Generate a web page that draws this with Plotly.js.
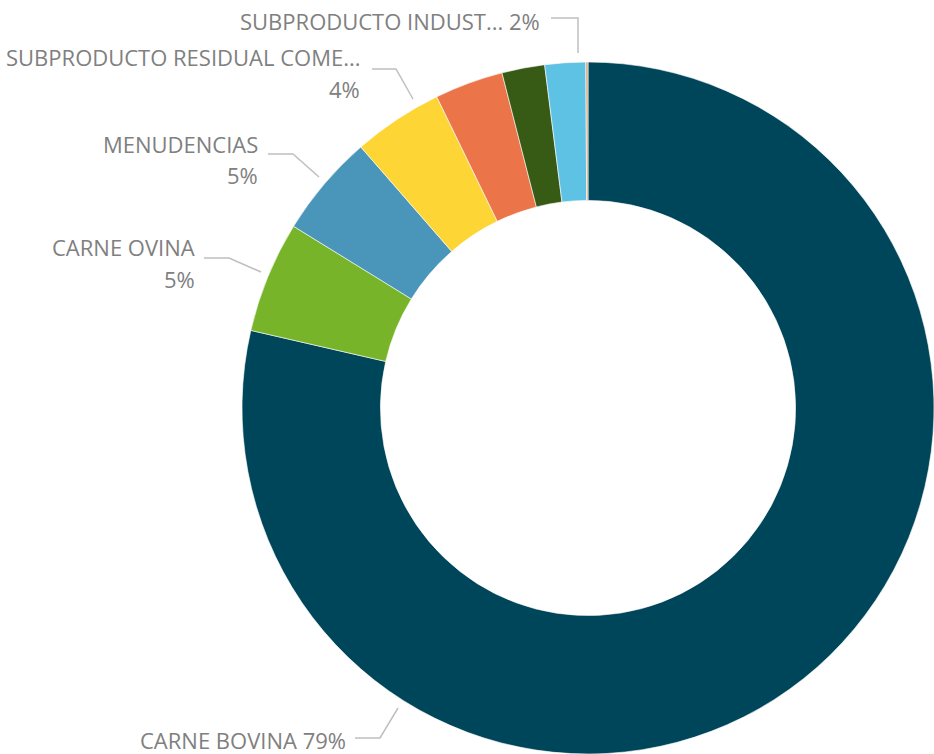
<!DOCTYPE html>
<html>
<head>
<meta charset="utf-8">
<script src="https://cdn.plot.ly/plotly-3.0.1.min.js"></script>
<style>
html,body{margin:0;padding:0;background:#fff;}
#chart{width:934px;height:754px;}
</style>
</head>
<body>
<div id="chart"></div>
<script>
// ---- data ----
var categories = [
  "CARNE BOVINA",
  "CARNE OVINA",
  "MENUDENCIAS",
  "SUBPRODUCTO RESIDUAL COMESTIBLE",
  "CARNE PORCINA",
  "CARNE AVIAR",
  "SUBPRODUCTO INDUSTRIAL",
  "OTROS"
];
var values = [78.6, 5.2, 4.8, 4.2, 3.2, 2.0, 1.9, 0.1];
var shortLabels = [
  "CARNE BOVINA",
  "CARNE OVINA",
  "MENUDENCIAS",
  "SUBPRODUCTO RESIDUAL COME...",
  null,
  null,
  "SUBPRODUCTO INDUST...",
  null
];
var colors = ["#00465A", "#78B42A", "#4A96BA", "#FDD534", "#EB7449", "#375A15", "#5EC2E5", "#D9A679"];

// ---- label layout (pixel placement of labels & leader lines) ----
var W = 934, H = 754;
function px(x){ return x / W; }
function py(y){ return 1 - y / H; }

var total = values.reduce(function(a,b){return a+b;}, 0);
function pct(i){ return Math.round(values[i] / total * 100) + "%"; }

var labelLayout = [
  {i:0, inline:true, right:347, cy:740, line:[[355,738],[380,738],[398,708]]},
  {i:1, right:196, cy:[247,279], line:[[204,258],[229,258],[261,272]]},
  {i:2, right:259, cy:[144,175], line:[[268,154],[293,154],[319,177]]},
  {i:3, right:361, cy:[57,89], line:[[372,69],[396,69],[413,99]]},
  {i:6, inline:true, right:541, cy:21, line:[[551,18],[578,18],[578,53]]}
];

var font = {family: "Open Sans, sans-serif", size: 22, color: "#808080"};
var annotations = [], shapes = [];
labelLayout.forEach(function(L){
  if (L.inline) {
    annotations.push({
      xref:"paper", yref:"paper", x:px(L.right), y:py(L.cy),
      xanchor:"right", yanchor:"middle", showarrow:false, borderpad:0,
      text: shortLabels[L.i] + " " + pct(L.i), font: font
    });
  } else {
    annotations.push({
      xref:"paper", yref:"paper", x:px(L.right), y:py(L.cy[0]),
      xanchor:"right", yanchor:"middle", showarrow:false, borderpad:0,
      text: shortLabels[L.i], font: font
    });
    annotations.push({
      xref:"paper", yref:"paper", x:px(L.right), y:py(L.cy[1]),
      xanchor:"right", yanchor:"middle", showarrow:false, borderpad:0,
      text: pct(L.i), font: font
    });
  }
  var p = L.line;
  var path = "M" + px(p[0][0]) + "," + py(p[0][1]);
  for (var k = 1; k < p.length; k++) path += " L" + px(p[k][0]) + "," + py(p[k][1]);
  shapes.push({type:"path", xref:"paper", yref:"paper", path:path,
    line:{color:"#BFBFBF", width:1.5}});
});

var trace = {
  type: "pie",
  labels: categories,
  values: values,
  sort: false,
  direction: "clockwise",
  rotation: 0,
  hole: 0.6,
  textinfo: "none",
  marker: {colors: colors, line: {color: "#FFFFFF", width: 0.6}},
  domain: {x: [px(242), px(934)], y: [py(754), py(62)]},
  showlegend: false
};

var layout = {
  width: W, height: H,
  margin: {l:0, r:0, t:0, b:0},
  paper_bgcolor: "#FFFFFF",
  showlegend: false,
  annotations: annotations,
  shapes: shapes
};

Plotly.newPlot("chart", [trace], layout, {displayModeBar: false, staticPlot: true});
</script>
</body>
</html>
